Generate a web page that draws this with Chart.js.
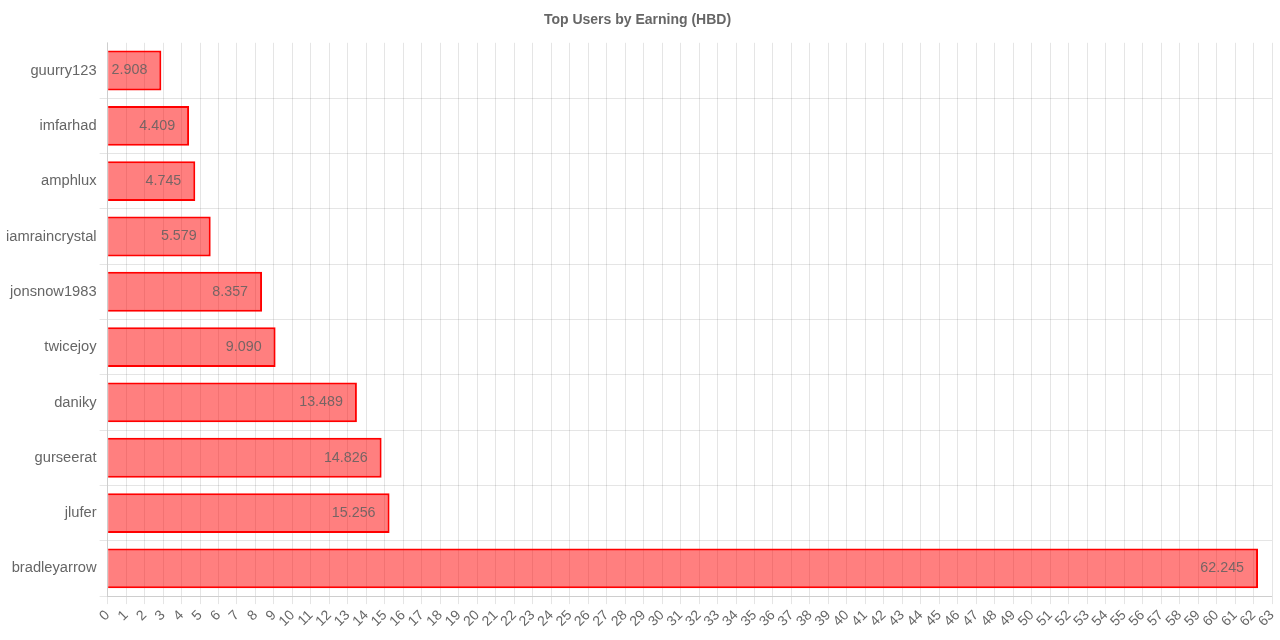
<!DOCTYPE html>
<html>
<head>
<meta charset="utf-8">
<script src="https://cdn.jsdelivr.net/npm/chart.js@4.4.0/dist/chart.umd.min.js"></script>
<style>
    html, body { margin: 0; padding: 0; background: #fff; }
    #wrap { width: 1280px; height: 640px; }
</style>
</head>
<body>
<div id="wrap"><canvas id="earningChart"></canvas></div>
<script>
const users = ['guurry123', 'imfarhad', 'amphlux', 'iamraincrystal', 'jonsnow1983',
    'twicejoy', 'daniky', 'gurseerat', 'jlufer', 'bradleyarrow'];
const earnings = [2.908, 4.409, 4.745, 5.579, 8.357, 9.090, 13.489, 14.826, 15.256, 62.245];

// value labels drawn near the end of each bar
const barValueLabels = {
    id: 'barValueLabels',
    afterDatasetsDraw(chart) {
        const ctx = chart.ctx;
        const meta = chart.getDatasetMeta(0);
        ctx.save();
        ctx.font = '14.3px "Helvetica Neue", Helvetica, Arial, sans-serif';
        ctx.fillStyle = 'rgba(95, 95, 95, 0.85)';
        ctx.textAlign = 'right';
        ctx.textBaseline = 'middle';
        meta.data.forEach((bar, i) => {
            const text = earnings[i].toFixed(3);
            const w = ctx.measureText(text).width;
            const right = Math.max(bar.x - 14, bar.base + w);
            ctx.fillText(text, right, bar.y);
        });
        ctx.restore();
    }
};

const hideEdgeLines = (c) => (c.index === 0 || c.index === users.length) ? 'transparent' : 'rgba(0, 0, 0, 0.1)';

new Chart(document.getElementById('earningChart').getContext('2d'), {
    type: 'bar',
    data: {
        labels: users,
        datasets: [{
            label: 'Earning (HBD)',
            data: earnings,
            backgroundColor: 'rgba(255, 0, 0, 0.5)',
            borderColor: 'rgb(255, 0, 0)',
            borderWidth: 2
        }]
    },
    options: {
        indexAxis: 'y',
        responsive: true,
        maintainAspectRatio: false,
        animation: false,
        layout: {
            padding: { left: 3, right: 8, bottom: 7 }
        },
        plugins: {
            title: {
                display: true,
                text: 'Top Users by Earning (HBD)',
                color: '#666',
                font: { size: 14, weight: 'bold' },
                padding: { top: 12, bottom: 14 }
            },
            legend: { display: false },
            tooltip: { enabled: false }
        },
        scales: {
            x: {
                beginAtZero: true,
                afterFit: (scale) => { scale.paddingRight = 0; },
                ticks: {
                    stepSize: 1,
                    autoSkip: false,
                    color: '#666',
                    font: { size: 14 },
                    maxRotation: 45,
                    minRotation: 45
                }
            },
            y: {
                grid: {
                    color: hideEdgeLines,
                    tickColor: hideEdgeLines
                },
                ticks: {
                    color: '#666',
                    font: { size: 14.7 }
                }
            }
        }
    },
    plugins: [barValueLabels]
});
</script>
</body>
</html>
